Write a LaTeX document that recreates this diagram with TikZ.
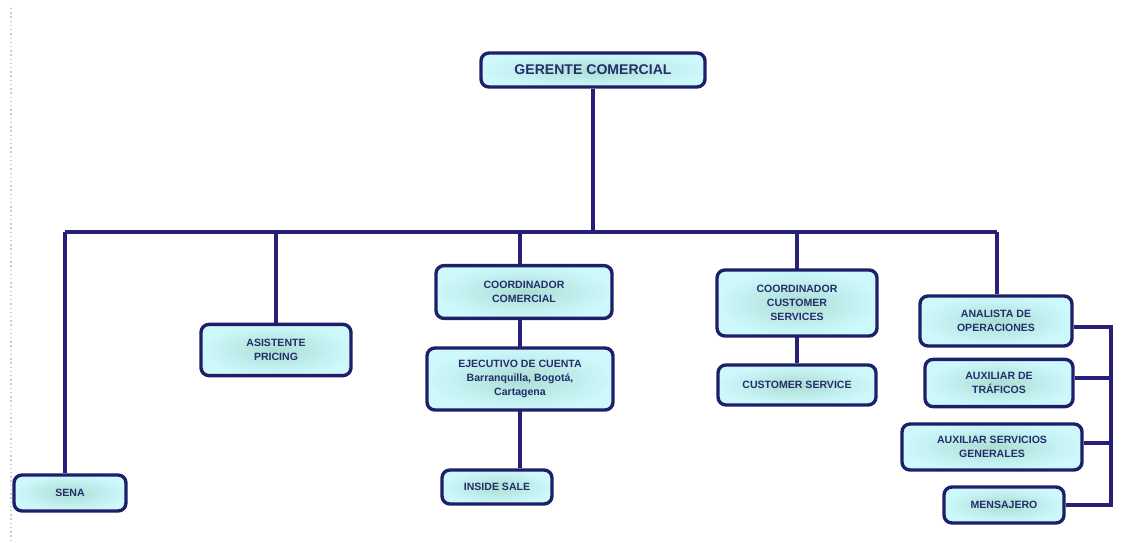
\documentclass[tikz,border=0pt]{standalone}
\usepackage{fontspec}
\setmainfont{Liberation Sans}
\usepackage{xcolor}
\usetikzlibrary{positioning, backgrounds, calc}

\definecolor{navy}{RGB}{38,32,120}
\definecolor{boxline}{RGB}{30,30,105}
\definecolor{boxtext}{RGB}{36,46,108}
\definecolor{boxout}{RGB}{205,248,252}
\definecolor{boxin}{RGB}{172,222,212}

\tikzset{
    orgbox/.style={draw=boxline, line width=2.4pt, rounded corners=0.2cm,
        inner color=boxin, outer color=boxout, align=center, inner sep=1pt,
        text=boxtext, font=\fontsize{7.5}{10}\selectfont\bfseries},
    link/.style={draw=navy, line width=2.5pt}
}

\begin{document}
\begin{tikzpicture}[x=0.025cm, y=-0.025cm]
    \useasboundingbox (0, 0) rectangle (1145, 543);
    \draw[gray!40, dotted, line width=1pt] (11, 8) -- (11, 543);

    \node[orgbox, minimum width=5.6cm, minimum height=0.85cm,
        font=\fontsize{10}{12}\selectfont\bfseries] (gerente) at (593, 70) {GERENTE COMERCIAL};

    \node[orgbox, minimum width=2.8cm, minimum height=0.9cm] (sena) at (70, 493) {SENA};
    \node[orgbox, minimum width=3.75cm, minimum height=1.28cm] (pricing) at (276, 350) {ASISTENTE\\PRICING};
    \node[orgbox, minimum width=4.4cm, minimum height=1.32cm] (coordcom) at (524, 292) {COORDINADOR\\COMERCIAL};
    \node[orgbox, minimum width=4.65cm, minimum height=1.55cm] (ejecutivo) at (520, 379) {EJECUTIVO DE CUENTA\\Barranquilla, Bogot\'a,\\Cartagena};
    \node[orgbox, minimum width=2.75cm, minimum height=0.85cm] (inside) at (497, 487) {INSIDE SALE};
    \node[orgbox, minimum width=4.0cm, minimum height=1.65cm] (coordcs) at (797, 303) {COORDINADOR\\CUSTOMER\\SERVICES};
    \node[orgbox, minimum width=3.95cm, minimum height=1.0cm] (custserv) at (797, 385) {CUSTOMER SERVICE};
    \node[orgbox, minimum width=3.8cm, minimum height=1.25cm] (analista) at (996, 321) {ANALISTA DE\\OPERACIONES};
    \node[orgbox, minimum width=3.7cm, minimum height=1.18cm] (trafico) at (999, 383) {AUXILIAR DE\\TR\'AFICOS};
    \node[orgbox, minimum width=4.5cm, minimum height=1.15cm] (servicios) at (992, 447) {AUXILIAR SERVICIOS\\GENERALES};
    \node[orgbox, minimum width=3.0cm, minimum height=0.9cm] (mensajero) at (1004, 505) {MENSAJERO};

    \coordinate (busL) at (65, 232);
    \coordinate (busR) at (997, 232);
    \coordinate (brk) at (1111, 0);

    \begin{scope}[on background layer]
        \draw[link] (busL) -- (busR);
        \draw[link] (gerente.south) -- (gerente.south |- busL);
        \draw[link] (busL) -- (sena.north -| busL);
        \draw[link] (pricing.north |- busL) -- (pricing.north);
        \draw[link] (ejecutivo.north |- busL) -- (inside.north -| ejecutivo.north);
        \draw[link] (coordcs.north |- busL) -- (custserv.north);
        \draw[link] (busR) -- (analista.north -| busR);
        \draw[link] ($(analista.east)+(0,6)$) -| (brk |- mensajero.east) -- (mensajero.east);
        \draw[link] ($(trafico.east)+(0,-5)$) -- ($(trafico.east -| brk)+(0,-5)$);
        \draw[link] ($(servicios.east)+(0,-4)$) -- ($(servicios.east -| brk)+(0,-4)$);
    \end{scope}
\end{tikzpicture}
\end{document}
